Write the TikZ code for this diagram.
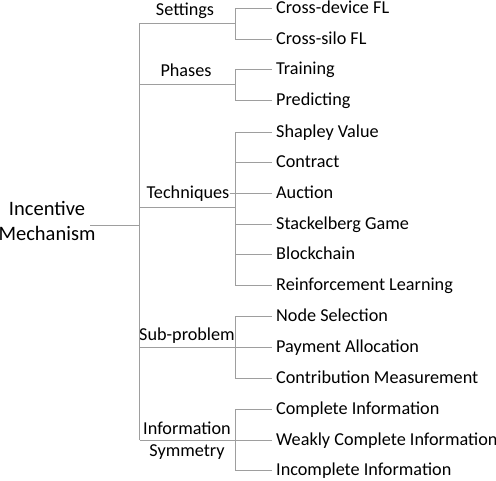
\documentclass[tikz,border=0pt]{standalone}
\usepackage{fontspec}
\setmainfont{Carlito}
\begin{document}
\begin{tikzpicture}[x=1pt,y=-1pt,
  txt/.style={inner sep=0pt,font=\fontsize{18.2}{22}\selectfont,text height=11.7pt,text depth=0pt},
  leaf/.style={txt,anchor=west},
  cat/.style={txt,anchor=center},
  ln/.style={draw=black!38,line width=1pt}]
\useasboundingbox (0,0) rectangle (496,480);
% root
\node[inner sep=0pt,font=\fontsize{20.5}{24.5}\selectfont,align=center,anchor=base] (root) at (47,240) {Incentive\\Mechanism};
\coordinate (rootend) at (90,225);
% spine
\coordinate (sTop) at (139.5,23);
\coordinate (sBot) at (139.5,440);
% category labels
\node[cat] (set) at (185,10) {Settings};
\node[cat] (pha) at (186,71) {Phases};
\node[cat,anchor=east] (tec) at (229.5,193) {Techniques};
\node[cat] (sub) at (187,335) {Sub-problem};
\node[cat] (inf) at (187,429) {Information};
\node[cat] (sym) at (187,451) {Symmetry};
% leaves
\foreach \n/\y/\t in {cd/8/Cross-device FL, cs/39/Cross-silo FL,
  tr/69/Training, pr/100/Predicting,
  sv/132/Shapley Value, co/162/Contract, au/193/Auction, sg/224/Stackelberg Game, bc/254/Blockchain, rl/285/Reinforcement Learning,
  ns/316/Node Selection, pa/347/Payment Allocation, cm/378/Contribution Measurement,
  ci/409/Complete Information, wc/440/Weakly Complete Information, ii/470/Incomplete Information}{
  \node[leaf] (\n) at (276,\y) {\t};
  \coordinate (\n b) at (235,\y);
  \coordinate (\n e) at (272,\y);
  \draw[ln] (\n b) -- (\n e);
}
% brackets
\draw[ln] (cdb) -- (csb);
\draw[ln] (trb) -- (prb);
\draw[ln] (svb) -- (rlb);
\draw[ln] (nsb) -- (cmb);
\draw[ln] (cib) -- (iib);
% spine and category connectors
\draw[ln] (rootend) -- (139.5,225);
\draw[ln] (sTop) -- (sBot);
\draw[ln] (sTop) -- (235,23);
\draw[ln] (139.5,84) -- (235,84);
\draw[ln] (139.5,207) -- (235,207);
\draw[ln] (139.5,347) -- (pab);
\draw[ln] (sBot) -- (wcb);
\draw[ln] (tec.east) -- (aub);
\end{tikzpicture}
\end{document}
